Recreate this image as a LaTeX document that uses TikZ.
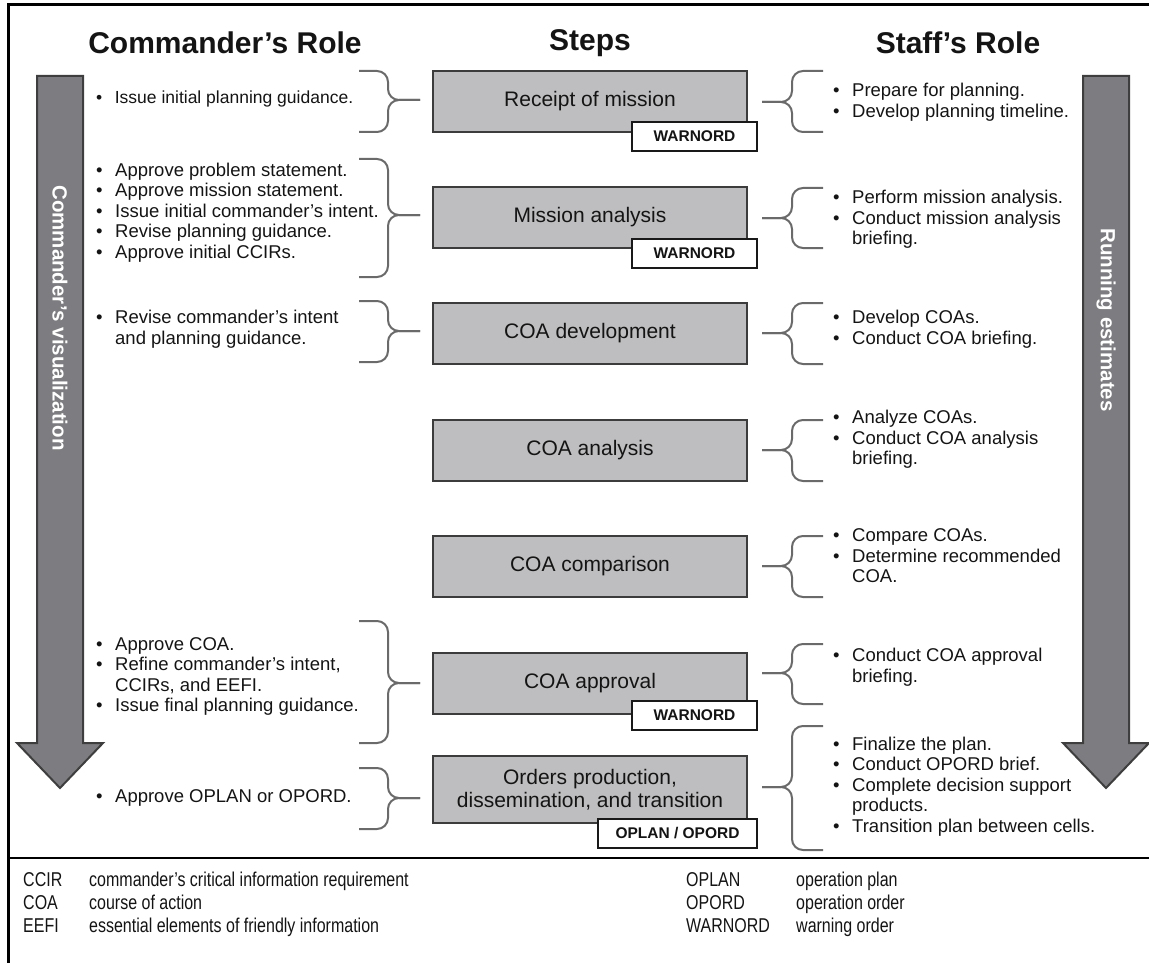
\documentclass[tikz,border=0pt]{standalone}
\usepackage{fontspec}
\setmainfont{Liberation Sans}
\newfontfamily\glossfont[FakeStretch=0.8]{Liberation Sans}
\usetikzlibrary{calc}

\definecolor{stepfill}{HTML}{BEBEC0}
\definecolor{stepline}{HTML}{3C3C3C}
\definecolor{arrowfill}{HTML}{7D7D81}
\definecolor{arrowline}{HTML}{3E3E3E}
\definecolor{bracecol}{HTML}{6A6A6A}
\definecolor{ink}{HTML}{141414}

% bullet list: bullet column and text column
\newcommand\blist[1]{\begin{tabular}{@{}l@{\hspace{12.5pt}}l@{}}#1\end{tabular}}

% brace on the commander's side: #1 top, #2 bottom, #3 tip y, #4 step node
\newcommand\cmdbrace[4]{%
  \draw[brc] (359,#1) -| (388,#3) -- (#4.west |- 0,#3);
  \draw[brc] (359,#2) -| (388,#3) -- (#4.west |- 0,#3);}
% brace on the staff's side
\newcommand\staffbrace[4]{%
  \draw[brc, shorten >=14pt] (823,#1) -| (792,#3) -- (#4.east |- 0,#3);
  \draw[brc, shorten >=14pt] (823,#2) -| (792,#3) -- (#4.east |- 0,#3);}

\begin{document}
\begin{tikzpicture}[x=1pt, y=-1pt,
  every node/.style={text=ink},
  header/.style={font=\fontsize{30}{36}\selectfont\bfseries, inner sep=0},
  stepbox/.style={draw=stepline, fill=stepfill, line width=2pt,
    minimum width=314pt, minimum height=61pt, inner sep=0, align=center,
    font=\fontsize{21}{23}\selectfont},
  tagbox/.style={draw=black!90, fill=white, line width=2pt,
    minimum width=125pt, minimum height=29pt, inner sep=0,
    font=\fontsize{15.5}{18}\selectfont\bfseries},
  arrowshape/.style={draw=arrowline, fill=arrowfill, line width=2pt, line join=miter},
  vlabel/.style={rotate=-90, text=white, inner sep=0,
    font=\fontsize{20.5}{24}\selectfont\bfseries},
  brc/.style={draw=bracecol, line width=2pt, rounded corners=11pt, shorten >=12pt},
  lst/.style={anchor=west, inner sep=0, font=\fontsize{18.5}{20.5}\selectfont},
  gloss/.style={anchor=base west, inner sep=0, font=\glossfont\fontsize{20}{23}\selectfont}]

\useasboundingbox (0,0) rectangle (1149,963);

% frame and footer rule
\draw[line width=3pt] (8,963) -- (8,5) -- (1149,5);
\draw[line width=2.5pt] (8,858) -- (1149,858);

% column headers
\node[header] (hc) at (225,43) {Commander’s Role};
\node[header] (hs) at (590,43) {Steps};
\node[header] (hf) at (958,43) {Staff’s Role};

% the two long arrows
\draw[arrowshape] (37,76) -- (83,76) -- (83,743) -- (103,743) -- (60,788)
  -- (17,743) -- (37,743) -- cycle;
\draw[arrowshape] (1083,76) -- (1129,76) -- (1129,743) -- (1149,743) -- (1106,788)
  -- (1063,743) -- (1083,743) -- cycle;
\node[vlabel] (cv) at (60,318) {Commander’s visualization};
\node[vlabel] (re) at (1106,320) {Running estimates};

% steps
\node[stepbox] (s1) at (590,101.5) {Receipt of mission};
\node[stepbox] (s2) at (590,217.5) {Mission analysis};
\node[stepbox] (s3) at (590,333.5) {COA development};
\node[stepbox] (s4) at (590,450.5) {COA analysis};
\node[stepbox] (s5) at (590,566.5) {COA comparison};
\node[stepbox] (s6) at (590,683) {COA approval};
\node[stepbox, minimum height=67pt] (s7) at (590,789.5)
  {Orders production,\\dissemination, and transition};

\node[tagbox] (w1) at (694.5,136.5) {WARNORD};
\node[tagbox] (w2) at (694.5,253.5) {WARNORD};
\node[tagbox] (w6) at (694.5,715) {WARNORD};
\node[tagbox, minimum width=159pt] (w7) at (677.5,833) {OPLAN / OPORD};

% commander's role
\node[lst, font=\fontsize{17.5}{20.5}\selectfont] (c1) at (96,99)
  {\blist{•&Issue initial planning guidance.}};
\node[lst] (c2) at (96,213) {\blist{•&Approve problem statement.\\
  •&Approve mission statement.\\•&Issue initial commander’s intent.\\
  •&Revise planning guidance.\\•&Approve initial CCIRs.}};
\node[lst] (c3) at (96,330) {\blist{•&Revise commander’s intent\\&and planning guidance.}};
\node[lst] (c6) at (96,677) {\blist{•&Approve COA.\\•&Refine commander’s intent,\\
  &CCIRs, and EEFI.\\•&Issue final planning guidance.}};
\node[lst] (c7) at (96,798) {\blist{•&Approve OPLAN or OPORD.}};

\cmdbrace{71}{132}{100}{s1}
\cmdbrace{159}{277}{215}{s2}
\cmdbrace{301}{362}{331}{s3}
\cmdbrace{621}{743}{683}{s6}
\cmdbrace{768}{829}{798}{s7}

% staff's role
\node[lst] (f1) at (833,103) {\blist{•&Prepare for planning.\\•&Develop planning timeline.}};
\node[lst] (f2) at (833,220) {\blist{•&Perform mission analysis.\\
  •&Conduct mission analysis\\&briefing.}};
\node[lst] (f3) at (833,330) {\blist{•&Develop COAs.\\•&Conduct COA briefing.}};
\node[lst] (f4) at (833,440) {\blist{•&Analyze COAs.\\•&Conduct COA analysis\\&briefing.}};
\node[lst] (f5) at (833,558) {\blist{•&Compare COAs.\\•&Determine recommended\\&COA.}};
\node[lst] (f6) at (833,668) {\blist{•&Conduct COA approval\\&briefing.}};
\node[lst] (f7) at (833,787) {\blist{•&Finalize the plan.\\•&Conduct OPORD brief.\\
  •&Complete decision support\\&products.\\•&Transition plan between cells.}};

\staffbrace{71}{132}{102}{s1}
\staffbrace{188}{248}{218}{s2}
\staffbrace{303}{364}{333}{s3}
\staffbrace{420}{481}{450}{s4}
\staffbrace{536}{597}{566}{s5}
\staffbrace{644}{704}{673}{s6}
\staffbrace{726}{850}{787}{s7}

% glossary
\node[gloss] (g1a) at (23,886) {CCIR};
\node[gloss] (g1b) at (89,886) {commander’s critical information requirement};
\node[gloss] (g2a) at (23,909) {COA};
\node[gloss] (g2b) at (89,909) {course of action};
\node[gloss] (g3a) at (23,932) {EEFI};
\node[gloss] (g3b) at (89,932) {essential elements of friendly information};
\node[gloss] (g4a) at (686,886) {OPLAN};
\node[gloss] (g4b) at (796,886) {operation plan};
\node[gloss] (g5a) at (686,909) {OPORD};
\node[gloss] (g5b) at (796,909) {operation order};
\node[gloss] (g6a) at (686,932) {WARNORD};
\node[gloss] (g6b) at (796,932) {warning order};
\end{tikzpicture}
\end{document}
